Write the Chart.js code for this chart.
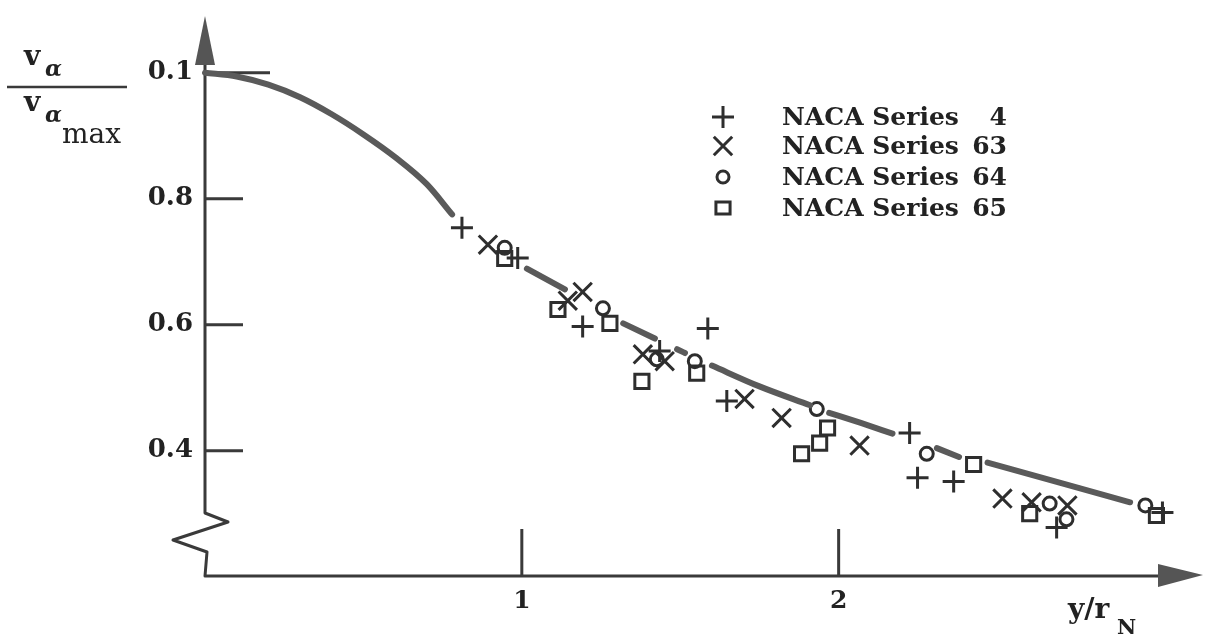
<!DOCTYPE html>
<html>
<head>
<meta charset="utf-8">
<script src="https://cdn.jsdelivr.net/npm/chart.js@4/dist/chart.umd.min.js"></script>
<style>
html, body { margin: 0; padding: 0; background: #fff; }
canvas { display: block; }
</style>
</head>
<body>
<canvas id="chart" width="1205" height="641"></canvas>
<script>
// faired curve, null = break in the line where the symbols sit
var curveX = [0, 0.1, 0.2, 0.3, 0.4, 0.5, 0.6, 0.7, 0.78, 0.9, 1.016, 1.136, 1.2, 1.32, 1.42, 1.46, 1.49, 1.515, 1.56, 1.60, 1.75, 1.91, 1.94, 1.97, 2.07, 2.17, 2.24, 2.31, 2.38, 2.42, 2.47, 2.7, 2.92];
var curveY = [1.0, 0.994, 0.981, 0.961, 0.934, 0.902, 0.866, 0.823, 0.775, null, 0.689, 0.656, null, 0.602, 0.578, null, 0.561, 0.555, null, 0.535, 0.502, 0.472, null, 0.460, 0.444, 0.427, null, 0.404, 0.390, null, 0.381, 0.349, 0.318];

var series4X = [0.811, 0.987, 1.192, 1.435, 1.587, 1.647, 2.224, 2.249, 2.363, 2.688, 3.022];
var series4Y = [0.754, 0.706, 0.597, 0.558, 0.594, 0.479, 0.428, 0.357, 0.351, 0.278, 0.302];

var series63X = [0.893, 1.145, 1.192, 1.382, 1.451, 1.703, 1.820, 2.066, 2.517, 2.609, 2.722];
var series63Y = [0.727, 0.638, 0.652, 0.553, 0.542, 0.482, 0.452, 0.408, 0.324, 0.318, 0.313];

var series64X = [0.946, 1.256, 1.426, 1.546, 1.931, 2.278, 2.666, 2.719, 2.968];
var series64Y = [0.722, 0.626, 0.545, 0.542, 0.466, 0.395, 0.316, 0.291, 0.313];

var series65X = [0.946, 1.114, 1.278, 1.379, 1.552, 1.883, 1.940, 1.965, 2.426, 2.603, 3.003];
var series65Y = [0.705, 0.624, 0.602, 0.510, 0.523, 0.395, 0.412, 0.436, 0.378, 0.300, 0.297];

var seriesNames = ['4', '63', '64', '65'];
var xTicks = [1, 2];
var xTickLabels = ['1', '2'];
var yTicks = [1.0, 0.8, 0.6, 0.4];
var yTickLabels = ['0.1', '0.8', '0.6', '0.4'];

var ink = '#2e2e2e';
var serif = "'DejaVu Serif', serif";

function pts(xs, ys) {
	var out = [];
	for (var i = 0; i < xs.length; i++) out.push({ x: xs[i], y: ys[i] });
	return out;
}

function markerSet(name, xs, ys, style, r) {
	return {
		label: 'NACA Series ' + name,
		data: pts(xs, ys),
		showLine: false,
		pointStyle: style,
		pointRadius: r,
		pointBorderWidth: 3,
		pointBorderColor: ink,
		pointBackgroundColor: 'rgba(0,0,0,0)'
	};
}

// draws a marker the same way for the legend
function drawMark(ctx, style, x, y, r) {
	ctx.beginPath();
	if (style == 'cross') {
		ctx.moveTo(x - r, y); ctx.lineTo(x + r, y);
		ctx.moveTo(x, y - r); ctx.lineTo(x, y + r);
	} else if (style == 'crossRot') {
		var d = r * Math.SQRT1_2;
		ctx.moveTo(x - d, y - d); ctx.lineTo(x + d, y + d);
		ctx.moveTo(x - d, y + d); ctx.lineTo(x + d, y - d);
	} else if (style == 'circle') {
		ctx.arc(x, y, r, 0, Math.PI * 2);
	} else {
		var s = r * Math.SQRT1_2;
		ctx.rect(x - s, y - s * 0.85, 2 * s, 2 * s * 0.85);
	}
	ctx.stroke();
}

// no automatic label padding, the plot box is fixed
function noPad(s) {
	s.paddingTop = 0; s.paddingBottom = 0;
	s.paddingLeft = 0; s.paddingRight = 0;
}

var paperAxes = {
	id: 'paperAxes',
	// the plot box runs out to the arrow tip at the right edge
	afterLayout: function(chart) {
		var xs = chart.scales.x;
		xs.right = chart.width - 2;
		xs.width = xs.right - xs.left;
		chart.chartArea.right = xs.right;
		chart.chartArea.width = xs.width;
		xs.configure();
	},
	beforeDatasetsDraw: function(chart) {
		var ctx = chart.ctx;
		var xs = chart.scales.x, ys = chart.scales.y;
		var x0 = xs.left, yb = ys.bottom;
		ctx.save();
		ctx.strokeStyle = '#3a3a3a';
		ctx.fillStyle = '#555';
		ctx.lineWidth = 3;
		ctx.lineJoin = 'round';

		// y axis with break
		ctx.beginPath();
		ctx.moveTo(xs.right - 45, yb);
		ctx.lineTo(x0, yb);
		ctx.lineTo(x0 + 2, yb - 24);
		ctx.lineTo(x0 - 32, yb - 36);
		ctx.lineTo(x0 + 23, yb - 54);
		ctx.lineTo(x0, yb - 63);
		ctx.lineTo(x0, ys.top + 45);
		ctx.stroke();

		// arrow heads
		ctx.beginPath();
		ctx.moveTo(x0, ys.top);
		ctx.lineTo(x0 - 10, ys.top + 49);
		ctx.lineTo(x0 + 10, ys.top + 49);
		ctx.closePath();
		ctx.fill();
		ctx.beginPath();
		ctx.moveTo(xs.right, yb - 1);
		ctx.lineTo(xs.right - 45, yb - 12);
		ctx.lineTo(xs.right - 45, yb + 11);
		ctx.closePath();
		ctx.fill();

		// ticks point into the plot
		ctx.beginPath();
		for (var i = 0; i < yTicks.length; i++) {
			var py = ys.getPixelForValue(yTicks[i]);
			ctx.moveTo(x0, py);
			ctx.lineTo(x0 + (i == 0 ? 65 : 38), py);
		}
		for (var j = 0; j < xTicks.length; j++) {
			var px = xs.getPixelForValue(xTicks[j]);
			ctx.moveTo(px, yb);
			ctx.lineTo(px, yb - 47);
		}
		ctx.stroke();

		// y title: va / va max
		ctx.fillStyle = '#222';
		ctx.textAlign = 'left';
		ctx.textBaseline = 'alphabetic';
		ctx.font = 'bold 28px ' + serif;
		ctx.fillText('v', 24, 65);
		ctx.fillText('v', 24, 111);
		ctx.font = 'italic bold 22px ' + serif;
		ctx.fillText('\u03b1', 45, 76);
		ctx.fillText('\u03b1', 45, 122);
		ctx.font = '28px ' + serif;
		ctx.fillText('max', 62, 143);
		ctx.lineWidth = 2.5;
		ctx.beginPath();
		ctx.moveTo(7, 87);
		ctx.lineTo(127, 87);
		ctx.stroke();

		// x title: y/rN
		ctx.font = 'bold 28px ' + serif;
		ctx.fillText('y/r', 1068, 618);
		ctx.font = 'bold 21px ' + serif;
		ctx.fillText('N', 1117, 634);
		ctx.restore();
	},
	afterDatasetsDraw: function(chart) {
		var ctx = chart.ctx;
		ctx.save();
		ctx.strokeStyle = ink;
		ctx.fillStyle = '#222';
		ctx.lineWidth = 3;
		var rows = [117, 146, 177, 208];
		var sizes = [11, 13, 6, 10];
		ctx.font = 'bold 25px ' + serif;
		ctx.textBaseline = 'middle';
		for (var i = 0; i < 4; i++) {
			var ds = chart.data.datasets[i + 1];
			drawMark(ctx, ds.pointStyle, 723, rows[i], sizes[i]);
			ctx.textAlign = 'left';
			ctx.fillText(ds.label.replace(' ' + seriesNames[i], ''), 782, rows[i] + 1);
			ctx.textAlign = 'right';
			ctx.fillText(seriesNames[i], 1007, rows[i] + 1);
		}
		ctx.restore();
	}
};

new Chart(document.getElementById('chart'), {
	type: 'scatter',
	data: {
		datasets: [
			{
				label: 'curve',
				data: pts(curveX, curveY),
				showLine: true,
				spanGaps: false,
				cubicInterpolationMode: 'monotone',
				borderColor: '#5a5a5a',
				borderWidth: 6,
				borderCapStyle: 'round',
				pointRadius: 0
			},
			markerSet(seriesNames[0], series4X, series4Y, 'cross', 11),
			markerSet(seriesNames[1], series63X, series63Y, 'crossRot', 13),
			markerSet(seriesNames[2], series64X, series64Y, 'circle', 6.5),
			markerSet(seriesNames[3], series65X, series65Y, 'rect', 10)
		]
	},
	options: {
		responsive: false,
		animation: false,
		clip: false,
		layout: { padding: { top: 13, right: 2, left: 0, bottom: 0 } },
		plugins: { legend: { display: false }, tooltip: { enabled: false } },
		scales: {
			x: {
				type: 'linear',
				min: 0,
				max: 3.15,
				border: { display: false },
				grid: { display: false, drawTicks: false },
				afterBuildTicks: function(s) { s.ticks = xTicks.map(function(v) { return { value: v }; }); },
				afterFit: function(s) { s.height = 65; noPad(s); },
				ticks: {
					padding: 10,
					color: '#222',
					font: { family: serif, size: 25, weight: 'bold' },
					callback: function(v) { return xTickLabels[xTicks.indexOf(v)]; }
				}
			},
			y: {
				type: 'linear',
				min: 0.201,
				max: 1.09,
				border: { display: false },
				grid: { display: false, drawTicks: false },
				afterBuildTicks: function(s) { s.ticks = yTicks.map(function(v) { return { value: v }; }); },
				afterFit: function(s) { s.width = 205; noPad(s); },
				ticks: {
					padding: 12,
					color: '#222',
					font: { family: serif, size: 26, weight: 'bold' },
					callback: function(v) { return yTickLabels[yTicks.indexOf(v)]; }
				}
			}
		}
	},
	plugins: [paperAxes]
});
</script>
</body>
</html>
